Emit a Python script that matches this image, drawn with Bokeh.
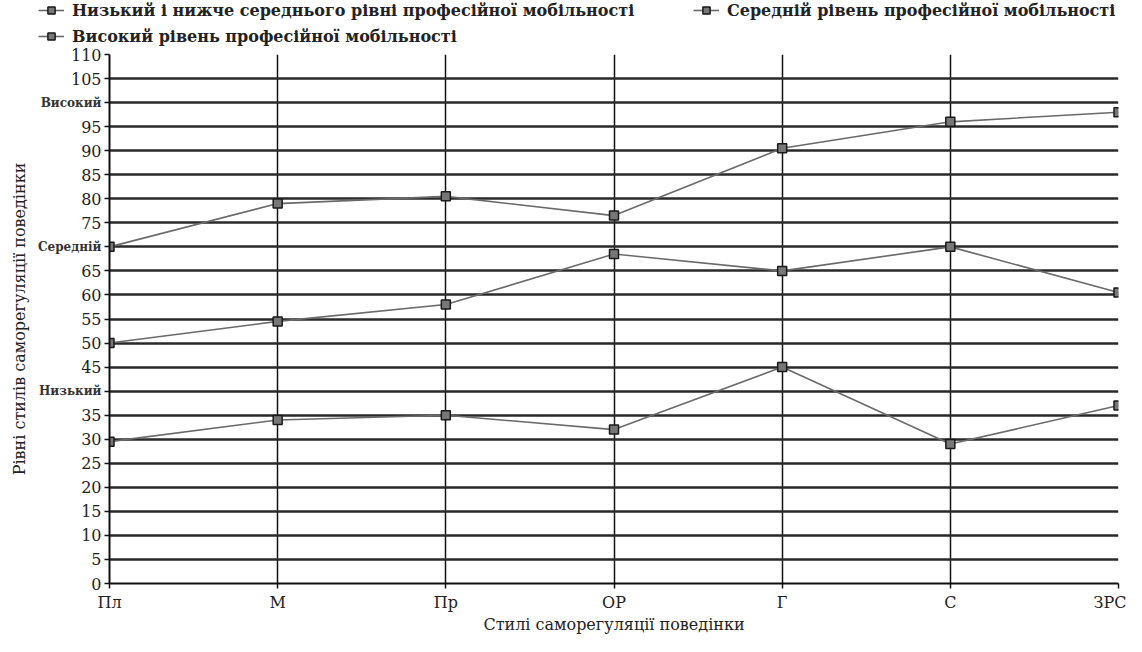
from bokeh.plotting import figure
from bokeh.models import FixedTicker, Legend, LegendItem, Range1d, LinearAxis
from bokeh.layouts import column
from bokeh.embed import file_html
from bokeh.resources import INLINE

categories = ["Пл", "М", "Пр", "ОР", "Г", "С", "ЗРС"]
low_series = [29.5, 34, 35, 32, 45, 29, 37]
mid_series = [50, 54.5, 58, 68.5, 65, 70, 60.5]
high_series = [70, 79, 80.5, 76.5, 90.5, 96, 98]
series_names = [
    "Низький і нижче середнього рівні професійної мобільності",
    "Середній рівень професійної мобільності",
    "Високий рівень професійної мобільності",
]
y_ticks = list(range(0, 111, 5))
level_labels = {100: "Високий", 70: "Середній", 40: "Низький"}

FONT = "DejaVu Serif"
LINE_STYLE = dict(line_color="#6a6a6a", line_width=1.6)
MARK_STYLE = dict(marker="square", size=9, fill_color="#777777", line_color="#1a1a1a", line_width=1.5)

# ---------- main chart ----------
p = figure(width=1126, height=590, output_backend="svg", toolbar_location=None,
           x_range=Range1d(0, len(categories) - 1), y_range=Range1d(0, 110),
           min_border_left=109, min_border_right=8, min_border_top=8, min_border_bottom=44)
p.outline_line_color = None
p.background_fill_color = "white"
p.frame_align = False

xs = list(range(len(categories)))
all_series = (low_series, mid_series, high_series)
for vals in all_series:
    p.line(xs, vals, **LINE_STYLE)
    p.scatter(xs, vals, **MARK_STYLE)

p.xaxis.ticker = FixedTicker(ticks=xs)
p.xaxis.major_label_overrides = {i: c for i, c in enumerate(categories)}
p.yaxis.ticker = FixedTicker(ticks=y_ticks)
p.yaxis.major_label_overrides = {k: "" for k in level_labels}

for ax in (p.xaxis[0], p.yaxis[0]):
    ax.axis_line_color = "#111111"
    ax.axis_line_width = 2
    ax.major_tick_line_color = "#111111"
    ax.major_tick_line_width = 1.5
    ax.major_tick_out = 5
    ax.major_tick_in = 0
    ax.minor_tick_line_color = None
    ax.major_label_text_font = FONT
    ax.major_label_text_font_size = "16px"
    ax.major_label_text_color = "#222222"
    ax.axis_label_text_font = FONT
    ax.axis_label_text_font_size = "16px"
    ax.axis_label_text_font_style = "normal"
    ax.axis_label_text_color = "#222222"

p.xaxis.axis_label = "Стилі саморегуляції поведінки"
p.yaxis.major_label_standoff = 3
p.xaxis.major_label_standoff = 4
p.xaxis.axis_label_standoff = 0

lvl_axis = LinearAxis(ticker=FixedTicker(ticks=list(level_labels.keys())),
                      major_label_overrides=level_labels,
                      axis_line_color=None, major_tick_line_color=None,
                      major_tick_out=0, major_tick_in=0, minor_tick_line_color=None,
                      major_label_standoff=-34,
                      major_label_text_font=FONT, major_label_text_font_size="12px",
                      major_label_text_font_style="bold", major_label_text_color="#333333",
                      axis_label="Рівні стилів саморегуляції поведінки",
                      axis_label_text_font=FONT, axis_label_text_font_size="16px",
                      axis_label_text_font_style="normal", axis_label_text_color="#222222",
                      axis_label_standoff=6)
p.add_layout(lvl_axis, "left")

p.xgrid.ticker = FixedTicker(ticks=xs)
p.xgrid.grid_line_color = "#111111"
p.xgrid.grid_line_width = 1.5
p.ygrid.ticker = FixedTicker(ticks=y_ticks)
p.ygrid.grid_line_color = "#2a2a2a"
p.ygrid.grid_line_width = 2.5

# ---------- legend strip (same series, drawn out of view; only the legend shows) ----------
lg = figure(width=1126, height=46, output_backend="svg", toolbar_location=None,
            x_range=Range1d(0, 1), y_range=Range1d(500, 501), x_axis_type=None, y_axis_type=None,
            min_border_left=0, min_border_right=0, min_border_top=0, min_border_bottom=0)
lg.outline_line_color = None
lg.xgrid.visible = False
lg.ygrid.visible = False
lg.frame_align = False
items = []
for name, vals in zip(series_names, all_series):
    r1 = lg.line(xs, vals, **LINE_STYLE)
    r2 = lg.scatter(xs, vals, **MARK_STYLE)
    items.append(LegendItem(label=name, renderers=[r1, r2]))

legend = Legend(items=items, orientation="horizontal", ncols=2, location=(38, 0),
                label_text_font=FONT, label_text_font_size="16px", label_text_font_style="bold",
                label_text_color="#222222", label_height=20, glyph_height=18, glyph_width=26,
                label_width=615, spacing=6, padding=0, margin=0, border_line_color=None,
                background_fill_alpha=0, label_standoff=8)
lg.add_layout(legend, "center")

open("out.html", "w").write(file_html(column(lg, p), INLINE))
